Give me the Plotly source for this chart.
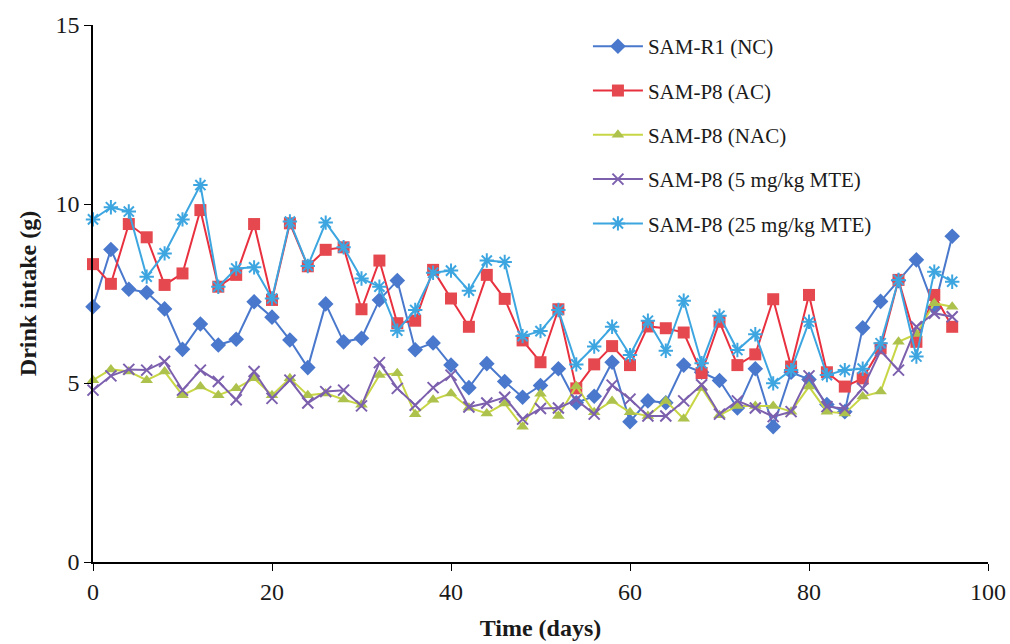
import plotly.graph_objects as go

days = list(range(0, 97, 2))

nc = [7.13, 8.73, 7.62, 7.53, 7.07, 5.94, 6.65, 6.06, 6.22, 7.27, 6.84, 6.20, 5.43,
      7.21, 6.15, 6.25, 7.32, 7.86, 5.93, 6.12, 5.50, 4.87, 5.54, 5.04, 4.60, 4.93,
      5.40, 4.45, 4.63, 5.58, 3.92, 4.50, 4.45, 5.50, 5.30, 5.07, 4.30, 5.40, 3.78,
      5.30, 5.10, 4.40, 4.20, 6.54, 7.28, 7.86, 8.44, 7.10, 9.10]

ac = [8.32, 7.77, 9.44, 9.07, 7.74, 8.06, 9.83, 7.69, 8.02, 9.44, 7.32, 9.46, 8.26,
      8.72, 8.79, 7.06, 8.42, 6.67, 6.74, 8.16, 7.36, 6.57, 8.02, 7.35, 6.19, 5.58,
      7.06, 4.85, 5.52, 6.03, 5.50, 6.58, 6.53, 6.41, 5.28, 6.71, 5.50, 5.80, 7.34,
      5.46, 7.46, 5.30, 4.90, 5.13, 5.97, 7.88, 6.15, 7.46, 6.57]

nac = [5.08, 5.38, 5.32, 5.08, 5.32, 4.66, 4.90, 4.66, 4.85, 5.13, 4.66, 5.13, 4.66,
       4.71, 4.54, 4.39, 5.22, 5.27, 4.13, 4.53, 4.71, 4.31, 4.15, 4.43, 3.78, 4.70,
       4.08, 4.91, 4.18, 4.50, 4.18, 4.08, 4.50, 4.00, 4.86, 4.10, 4.36, 4.36, 4.36,
       4.20, 4.90, 4.20, 4.15, 4.62, 4.76, 6.15, 6.37, 7.23, 7.13]

mte5 = [4.80, 5.20, 5.38, 5.36, 5.60, 4.80, 5.36, 5.04, 4.53, 5.32, 4.57, 5.08, 4.44,
        4.76, 4.80, 4.36, 5.57, 4.85, 4.38, 4.87, 5.22, 4.33, 4.44, 4.60, 3.99, 4.29,
        4.30, 4.53, 4.13, 4.94, 4.55, 4.08, 4.08, 4.50, 4.95, 4.13, 4.50, 4.30, 4.06,
        4.20, 5.20, 4.34, 4.29, 4.85, 5.90, 5.36, 6.57, 6.95, 6.85]

mte25 = [9.57, 9.91, 9.79, 7.97, 8.62, 9.57, 10.53, 7.69, 8.20, 8.23, 7.36, 9.51, 8.27,
         9.48, 8.79, 7.92, 7.69, 6.46, 7.04, 8.08, 8.14, 7.58, 8.42, 8.38, 6.31, 6.45,
         7.04, 5.52, 6.02, 6.57, 5.78, 6.74, 5.90, 7.30, 5.55, 6.88, 5.92, 6.36, 4.99,
         5.36, 6.71, 5.22, 5.36, 5.40, 6.11, 7.88, 5.74, 8.11, 7.83]

names = ["SAM-R1 (NC)", "SAM-P8 (AC)", "SAM-P8 (NAC)",
         "SAM-P8 (5 mg/kg MTE)", "SAM-P8 (25 mg/kg MTE)"]

x_ticks = [0, 20, 40, 60, 80, 100]
y_ticks = [0, 5, 10, 15]

FONT = "Liberation Serif"
TXT = "#1a1a1a"

fig = go.Figure()

fig.add_trace(go.Scatter(
    x=days, y=nc, name=names[0], mode="lines+markers", legendgroup="a",
    line=dict(color="#4A78CC", width=2),
    marker=dict(symbol="diamond", size=12, color="#4A78CC"),
    cliponaxis=False))
fig.add_trace(go.Scatter(
    x=days, y=ac, name=names[1], mode="lines+markers", legendgroup="b",
    line=dict(color="#E8303F", width=2),
    marker=dict(symbol="square", size=12, color="#E5484F"),
    cliponaxis=False))
fig.add_trace(go.Scatter(
    x=days, y=nac, name=names[2], mode="lines+markers", legendgroup="c",
    line=dict(color="#C8D646", width=2),
    marker=dict(symbol="triangle-up", size=11, color="#ADC24C"),
    cliponaxis=False))
fig.add_trace(go.Scatter(
    x=days, y=mte5, name=names[3], mode="lines+markers", legendgroup="d",
    line=dict(color="#7C60AE", width=2),
    marker=dict(symbol="x-thin-open", size=11, line=dict(color="#7C60AE", width=2)),
    cliponaxis=False))
fig.add_trace(go.Scatter(
    x=days, y=mte25, name=names[4], mode="lines+markers", legendgroup="e",
    line=dict(color="#3DA6E0", width=2),
    marker=dict(symbol="asterisk-open", size=12, line=dict(color="#3DA6E0", width=2)),
    cliponaxis=False))

fig.update_layout(
    width=1010, height=644,
    margin=dict(l=93, r=22, t=25, b=82, autoexpand=False),
    paper_bgcolor="white", plot_bgcolor="white",
    font=dict(family=FONT, size=22, color=TXT),
    showlegend=True,
    legend=dict(
        x=0.553, y=0.998, xanchor="left", yanchor="top",
        font=dict(family=FONT, size=21, color=TXT),
        bgcolor="rgba(255,255,255,0)", tracegroupgap=14, itemwidth=50,
    ),
    xaxis=dict(
        range=[0, 100], tickvals=x_ticks, ticks="outside", ticklen=7,
        tickcolor="black", showline=True, linecolor="black", linewidth=1.5,
        showgrid=False, zeroline=False, automargin=False,
        tickfont=dict(family=FONT, size=24, color=TXT),
        title=dict(text="<b>Time (days)</b>", standoff=16,
                   font=dict(family=FONT, size=24, color=TXT)),
    ),
    yaxis=dict(
        range=[0, 15], tickvals=y_ticks, ticks="outside", ticklen=7,
        tickcolor="black", showline=True, linecolor="black", linewidth=1.5,
        showgrid=False, zeroline=False, automargin=False,
        tickfont=dict(family=FONT, size=24, color=TXT),
        title=dict(text="<b>Drink intake (g)</b>", standoff=12,
                   font=dict(family=FONT, size=24, color=TXT)),
    ),
)

fig.write_html("out.html")
